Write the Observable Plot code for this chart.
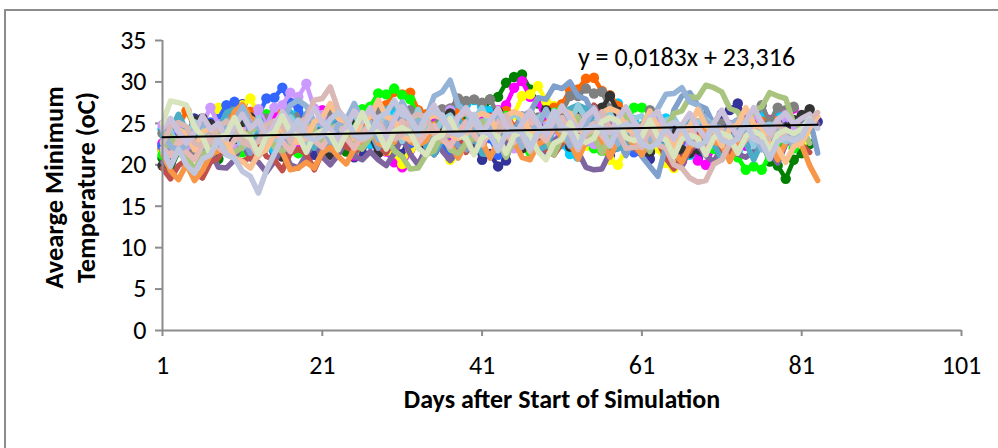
<!DOCTYPE html>
<html>
<head>
<meta charset="utf-8">
<script src="https://cdn.jsdelivr.net/npm/d3@7"></script>
<script src="https://cdn.jsdelivr.net/npm/@observablehq/plot@0.6"></script>
<style>
  html, body { margin: 0; background: #fff; overflow: hidden; width: 998px; height: 448px; }
  #frame { position: absolute; left: 4px; top: 9px; width: 1100px; height: 500px; border: 2px solid #8c8c8c; box-sizing: border-box; }
  #chart { position: absolute; left: 0; top: 0; }
  #chart svg { overflow: visible; }
</style>
</head>
<body>
<div id="frame"></div>
<div id="chart"></div>
<script>
// ---- Data (read/estimated from the reference) ----
const xTicks = [1, 21, 41, 61, 81, 101];
const yTicks = [0, 5, 10, 15, 20, 25, 30, 35];
const xLabel = "Days after Start of Simulation";
const yLabel = "Avearge Minimum\nTemperature (oC)";
const trendLabel = "y = 0,0183x + 23,316";
const trendSlope = 0.0183;
const trendIntercept = 23.316;
const trendRange = [1, 83];

// Series drawn first (with circle markers)
const m01 = [21.8,20.1,22.9,23.4,25.6,24.0,24.6,22.3,21.9,23.7,27.3,25.2,24.8,22.4,21.6,23.9,24.3,25.1,22.5,21.2,
 23.0,24.8,23.1,22.7,20.9,21.4,23.6,25.3,24.4,22.0,21.3,23.5,23.9,22.1,21.7,24.0,22.6,25.1,23.2,22.8,
 20.6,21.3,19.8,20.5,23.4,24.1,25.9,23.6,22.8,22.0,24.3,23.8,26.2,24.5,23.1,22.9,21.1,23.7,24.4,22.6,
 21.5,20.7,22.8,24.6,24.9,23.3,22.5,20.8,23.6,24.0,26.1,26.6,27.4,25.3,24.8,22.9,22.1,24.5,25.0,23.6,
 25.7,26.1,25.2];
const m02 = [20.8,19.4,21.6,22.1,24.2,22.3,21.9,20.7,23.8,25.1,23.6,23.9,21.5,22.8,25.0,22.6,21.8,22.2,23.5,24.7,
 25.3,23.8,24.1,21.6,22.9,25.4,26.1,24.3,23.7,22.1,24.6,24.9,26.5,24.8,23.2,25.1,26.0,27.6,25.7,24.4,
 26.3,27.9,28.2,29.9,30.6,30.9,29.1,27.4,26.8,24.6,24.9,25.8,26.4,25.1,24.7,22.9,25.2,25.5,23.9,23.4,
 22.1,24.5,25.0,23.6,23.1,21.2,23.8,24.0,25.9,23.7,23.5,21.8,24.1,24.3,22.7,22.6,20.4,19.9,18.3,20.6,
 21.4,22.5];
const m03 = [22.6,24.9,25.1,23.8,23.3,21.5,23.6,24.1,26.2,24.0,23.6,21.9,24.2,24.5,26.3,24.2,23.8,21.8,24.4,24.7,
 26.6,24.9,23.3,22.8,21.1,23.4,24.0,22.2,21.6,20.3,19.7,21.8,22.4,24.6,25.0,23.7,23.1,21.5,23.9,24.2,
 26.1,24.3,26.6,27.2,29.3,30.1,28.2,27.6,25.1,24.8,22.7,25.0,25.6,24.2,23.9,21.8,24.1,24.6,24.3,22.2,
 22.0,22.5,24.8,22.6,22.1,20.4,22.3,20.5,20.0,22.2,22.6,24.8,22.7,22.3,22.8,25.1,25.4,24.9,25.1,26.8];
const m04 = [21.7,23.9,24.3,23.0,22.8,24.3,24.7,26.9,24.8,27.1,27.2,28.0,26.1,25.6,23.4,23.2,23.6,25.8,23.7,23.3,
 21.5,23.6,24.0,23.7,21.6,23.8,24.2,23.9,21.7,21.4,20.1,21.9,22.5,24.7,22.6,22.3,20.6,22.8,23.2,22.8,
 23.4,25.6,25.9,25.5,26.0,28.3,28.5,29.5,27.7,27.1,25.0,24.6,22.6,22.3,22.9,22.5,20.6,20.0,21.9,22.4,
 24.6,22.5,22.0,20.2,19.6,21.4,21.9,24.1,24.4,24.0,22.0,21.7,22.2,24.4,24.7,24.3,22.3,24.5,24.8,24.5,
 22.6,24.2];
const m05 = [24.3,22.4,22.0,22.6,24.8,25.1,23.9,23.5,21.6,23.7,24.1,26.2,24.2,23.8,21.8,24.0,24.4,26.4,24.3,24.0,
 22.0,21.7,22.3,24.5,24.9,24.5,22.5,24.7,25.1,27.0,25.1,24.7,22.7,22.4,23.0,25.2,25.6,27.3,27.3,27.8,
 27.0,26.5,24.4,24.0,22.1,24.2,24.7,24.4,22.4,22.0,22.5,21.3,21.0,22.8,23.3,25.4,25.8,27.4,25.8,25.4,
 23.4,23.0,23.5,25.6,23.6,23.2,21.2,23.3,23.8,23.4,21.4,21.1,21.7,23.9,24.4,26.4,24.4,26.3,24.7,23.5];
const m06 = [22.2,24.2,24.6,26.5,24.6,24.2,22.2,24.3,24.8,26.9,26.8,26.4,24.3,23.9,24.4,26.4,24.4,24.0,22.0,24.1,
 24.6,26.7,24.7,24.3,22.4,24.5,25.0,26.9,27.2,28.8,28.5,28.7,26.6,26.1,24.1,23.7,24.2,26.3,24.3,23.9,
 21.9,24.0,24.5,26.5,24.5,24.1,22.2,24.3,24.8,26.9,27.3,29.0,29.1,30.4,30.5,28.9,28.4,27.1,25.0,24.6,
 22.6,24.7,25.2,24.8,22.8,22.4,23.7,25.0,25.4,25.0,23.0,22.6,23.9,25.2,25.6,25.2,23.2,25.3,25.7,24.5];
const m07 = [21.2,23.2,23.6,23.2,21.2,20.9,21.4,23.5,23.9,23.5,21.5,23.6,24.1,26.1,24.1,23.7,21.7,21.4,21.9,24.0,
 24.5,24.1,22.1,24.2,24.7,26.7,27.0,28.6,28.5,29.2,28.4,27.9,25.8,25.3,23.3,22.9,21.0,23.1,23.6,25.7,
 23.7,23.3,23.8,25.9,23.9,23.5,21.6,23.7,24.2,26.3,26.7,26.4,24.4,24.0,22.0,21.7,22.2,24.3,24.8,26.9,
 26.9,26.5,24.5,24.1,22.1,21.7,23.0,24.3,22.3,21.9,23.2,21.2,20.9,19.4,19.8,19.4,21.2,21.7,23.8,22.0];
const m08 = [23.8,24.5,23.2,22.8,21.0,23.0,23.5,25.5,23.5,23.1,23.6,25.7,26.0,25.6,23.6,23.2,23.7,25.8,23.8,23.4,
 23.9,26.0,24.0,23.6,21.7,23.8,24.3,26.4,24.4,24.0,24.5,26.6,24.6,24.2,24.7,26.7,26.8,28.0,27.7,27.9,
 27.5,27.9,26.0,25.6,23.6,25.7,26.1,25.7,23.7,25.8,26.3,28.3,28.3,29.2,28.6,28.8,26.8,26.4,24.4,24.0,
 24.5,26.6,24.6,24.2,22.2,24.3,24.8,24.4,22.4,24.5,25.0,24.6,22.6,24.7,25.2,27.2,25.2,26.9,26.6,27.0];
const m09 = [22.3,23.0,24.9,22.9,22.5,23.0,25.1,25.5,27.2,27.6,26.0,25.5,25.9,28.0,28.1,29.3,27.5,27.0,25.0,24.6,
 22.6,24.7,25.2,24.8,22.8,22.4,23.7,25.0,25.4,25.0,23.0,22.6,23.9,25.2,23.2,22.8,21.0,23.1,23.6,25.6,
 23.6,23.2,21.2,23.3,23.8,25.8,23.8,23.4,23.9,26.0,24.0,23.6,21.6,23.7,24.2,26.2,24.2,23.8,21.8,21.5,
 22.0,24.1,24.6,24.2,22.2,21.8,23.1,24.4,24.9,24.5,22.5,24.6,25.1,24.7,22.7,22.3,23.6,24.9,25.3,24.9];
const m10 = [24.8,24.7,24.3,22.3,24.4,24.9,26.9,24.9,24.5,22.5,24.6,25.1,26.7,24.7,26.9,27.2,28.7,28.2,29.8,26.8,
 26.0,24.0,23.6,24.1,26.2,24.2,23.8,21.8,23.9,24.4,26.4,24.4,24.0,22.0,24.1,24.6,26.6,24.6,24.2,22.2,
 24.3,24.8,24.4,22.4,22.0,22.5,24.6,25.1,24.7,22.7,24.8,25.3,24.9,22.9,22.5,23.0,25.1,25.6,25.2,23.2,
 22.8,23.3,25.4,23.4,23.0,21.0,23.1,23.6,25.6,23.6,23.2,21.2,23.3,23.8,25.8,23.8,23.4,23.9,26.0,24.0];
const m11 = [19.9,20.4,22.6,23.2,25.3,25.6,24.9,23.0,22.6,23.1,25.2,25.7,25.2,23.3,22.9,21.0,23.1,23.6,25.6,23.6,
 23.2,21.2,23.3,23.8,25.8,23.8,23.4,21.4,23.5,24.0,26.0,24.0,23.6,21.6,23.7,24.2,26.2,24.2,23.8,21.8,
 23.9,24.4,26.4,24.4,24.0,22.0,24.1,24.6,26.6,24.6,24.2,22.2,24.3,24.8,26.8,26.9,28.3,26.4,25.9,24.0,
 23.6,21.6,23.7,24.2,23.8,21.8,21.4,21.9,24.0,24.5,24.1,22.1,24.2,24.7,24.3,22.3,24.4,24.9,24.5,25.4,
 26.0,26.7];

// Series drawn on top (lines only)
const l01 = [20.3,19.9,21.9,22.4,24.1,22.1,21.7,19.7,19.6,20.6,22.7,20.7,20.3,19.1,20.4,22.0,20.0,19.6,21.2,22.6,
 21.0,20.0,21.2,23.0,21.0,20.6,21.6,20.6,19.9,21.4,23.3,21.3,20.0,22.0,22.8,21.7,20.5,22.2,23.4,21.4,
 23.5,24.8,22.8,22.4,23.9,24.6,23.1,22.1,20.9,22.9,23.6,22.2,21.6,19.7,19.4,19.5,21.5,22.0,23.9,21.9,
 21.5,22.1,24.0,22.0,21.6,19.8,21.9,22.4,21.1,20.4,22.0,22.7,21.3,20.9,21.6,23.5,21.5,20.2,22.5,23.1,
 24.8,25.9,24.9];
const l02 = [19.6,18.3,19.9,20.6,19.2,18.4,20.3,20.8,22.8,20.8,20.4,20.9,22.9,21.0,20.6,19.3,21.4,21.9,21.3,19.4,
 21.5,22.0,24.0,22.1,21.7,22.2,24.2,22.3,21.4,23.0,23.8,25.4,23.6,23.2,21.2,23.3,23.8,23.3,21.5,23.5,
 24.0,26.0,24.0,23.6,24.1,26.1,24.1,23.7,21.8,21.2,22.6,23.3,25.5,25.6,27.2,25.2,24.8,22.8,22.5,23.8,
 24.4,23.2,22.8,20.8,19.5,20.9,21.6,23.7,24.1,23.6,21.7,21.4,22.5,23.6,25.1,23.1,22.7,20.7,22.8,23.3,
 22.4,21.5];
const l03 = [22.9,21.1,23.1,23.6,22.5,21.2,23.3,23.8,25.8,23.8,23.4,21.4,23.5,24.0,23.1,21.9,23.6,24.2,26.2,24.2,
 23.8,21.8,23.9,24.4,26.4,24.4,24.0,22.0,24.1,24.6,26.6,24.6,24.2,22.2,24.3,24.8,24.1,22.3,21.8,23.2,
 23.9,25.8,23.8,23.4,23.9,26.0,26.3,28.1,27.9,29.5,29.2,30.0,28.3,27.9,25.9,25.5,23.5,23.1,21.1,23.2,
 21.0,19.8,18.6,22.3,26.6,28.3,28.7,27.2,26.8,24.8,24.4,22.4,24.5,25.0,24.1,22.6,24.7,25.2,24.2,22.8,
 22.6,25.6,21.4];
const l04 = [23.5,24.1,26.1,24.1,23.7,21.7,23.8,24.3,26.3,26.7,26.1,24.2,23.8,21.8,23.9,24.4,26.4,24.4,24.0,22.0,
 24.1,24.6,26.6,24.6,24.2,22.2,24.3,24.8,26.8,27.0,26.6,24.6,24.2,22.2,21.2,23.0,23.6,25.7,23.7,23.3,
 21.3,21.2,22.0,24.0,24.5,24.1,22.1,21.8,22.2,24.3,24.8,26.8,27.2,26.8,24.8,24.4,22.4,21.9,22.4,24.5,
 25.0,24.6,22.6,22.2,22.7,24.8,25.3,24.9,22.9,22.5,20.6,22.5,23.0,22.6,20.6,22.7,23.2,25.2,23.2,22.8];
const l05 = [21.3,19.3,18.2,20.1,18.1,19.3,21.2,21.7,23.7,26.4,27.3,25.7,25.1,23.1,22.6,21.5,19.4,19.6,20.3,19.6,
 21.5,22.1,21.0,20.1,21.9,22.5,24.5,22.6,22.2,22.7,24.7,22.8,22.4,22.9,24.9,22.9,22.6,20.8,22.7,23.2,
 22.8,20.8,22.9,23.4,22.9,20.9,20.6,22.5,23.0,25.0,23.1,22.7,20.7,22.8,23.3,22.9,20.9,23.0,23.5,22.4,
 21.2,23.2,23.8,23.4,21.4,20.3,22.2,22.7,24.7,22.8,22.4,20.4,22.5,23.0,24.9,23.0,22.6,20.6,22.7,23.2,
 22.4,19.9,18.1];
const l06 = [21.5,23.5,21.6,21.2,19.3,21.3,21.8,23.8,21.8,21.5,22.1,24.1,24.6,24.1,22.1,21.7,22.3,24.3,24.8,24.3,
 22.3,24.4,24.8,24.5,22.5,21.9,23.3,24.0,23.3,21.7,21.0,19.5,19.6,21.2,21.7,23.7,21.8,21.4,22.6,23.3,
 25.3,23.3,22.9,20.9,23.0,23.5,25.6,23.6,23.2,21.2,23.3,23.8,25.8,23.8,23.4,21.4,23.5,24.0,26.0,24.0,
 23.6,21.6,23.7,24.2,26.2,26.5,28.2,28.1,29.6,29.3,28.8,26.8,26.4,24.4,26.5,27.0,28.7,28.3,28.0,25.0,
 24.6,22.6];
const l07 = [24.1,22.2,21.8,22.3,24.3,24.8,24.4,22.4,24.5,25.0,27.0,25.0,24.6,22.6,24.7,25.2,27.2,27.8,27.1,25.2,
 24.8,22.8,24.9,25.4,27.4,25.4,25.0,23.0,25.1,25.6,27.6,25.6,25.2,25.7,28.3,28.8,30.2,27.2,26.3,24.4,
 24.0,24.5,26.5,24.5,24.1,22.1,24.2,24.7,26.7,24.7,24.3,22.3,24.4,24.9,26.9,24.9,24.5,22.5,24.6,25.1,
 24.2,23.0,26.8,28.5,28.6,29.3,27.6,27.2,25.2,24.8,22.8,24.9,25.4,24.2,23.8,21.8,23.9,24.4,24.0,22.1];
const l08 = [24.9,25.4,24.2,23.8,21.8,23.9,24.4,23.2,22.8,20.8,20.4,19.6,21.3,21.8,23.8,24.3,23.1,22.7,23.2,25.2,
 25.7,27.4,25.6,25.2,23.2,25.3,25.8,27.8,25.8,25.4,23.4,23.0,23.5,25.5,26.0,25.6,23.6,23.2,23.7,25.7,
 26.2,25.8,23.8,25.9,26.4,26.0,24.0,23.6,24.1,26.1,26.6,26.2,24.2,23.8,24.3,26.3,26.8,26.4,24.4,24.0,
 24.5,26.5,24.5,24.1,22.1,24.2,24.7,26.7,24.7,24.3,22.3,24.4,24.9,26.9,24.9,24.5,22.5,22.0,20.3,22.2,
 22.6,24.5,25.8];
const l09 = [22.6,24.6,25.1,24.6,22.6,22.2,22.7,24.7,25.2,24.7,22.7,22.3,22.8,24.8,25.3,24.8,22.8,25.0,25.6,27.8,
 28.0,29.4,26.6,25.4,23.4,23.0,23.5,25.5,23.5,23.1,23.6,25.6,26.1,25.7,23.7,23.3,23.8,25.8,26.3,25.9,
 23.9,23.5,24.0,26.0,24.0,23.6,21.6,23.7,24.2,26.2,24.2,23.8,21.8,23.9,24.4,26.4,24.4,24.0,22.0,22.1,
 22.2,24.4,22.4,22.0,20.0,19.6,18.4,17.9,18.1,20.1,20.6,22.6,23.2,25.1,23.2,22.8,23.3,25.3,23.3,22.9,
 23.4,25.4,26.3];
const l10 = [25.0,27.7,27.5,27.2,24.6,23.4,21.2,23.2,23.7,25.7,23.7,23.3,21.3,23.4,23.9,25.9,23.9,23.5,21.5,23.6,
 24.1,23.6,21.8,23.8,24.3,26.3,24.3,23.9,21.9,24.0,24.5,23.9,22.0,21.2,23.1,23.6,25.6,23.6,23.2,21.2,
 23.3,23.8,23.4,21.4,23.5,24.0,23.6,21.6,20.6,22.6,23.1,25.1,23.1,22.7,23.2,25.2,25.7,25.3,23.3,22.9,
 23.4,25.4,23.4,23.0,21.0,23.1,23.6,23.2,21.2,23.3,23.8,23.4,21.4,23.5,24.0,23.6,21.6,23.7,24.2,23.8,
 24.3,25.5];
const l11 = [21.8,19.8,21.9,20.0,19.0,20.7,21.2,23.2,21.2,20.8,19.2,18.6,16.6,19.3,21.3,23.3,23.8,25.4,23.4,23.0,
 23.5,25.5,26.3,25.6,23.6,23.2,23.7,25.7,26.2,27.8,26.0,25.6,23.6,26.0,26.4,26.0,24.0,23.6,24.1,26.1,
 24.1,23.7,21.7,23.8,24.3,23.9,21.9,24.0,24.5,26.5,24.5,24.1,22.1,24.2,24.7,24.3,22.3,24.4,24.9,24.5,
 22.5,22.1,22.6,24.6,25.1,24.7,22.7,22.3,22.8,24.8,23.0,22.6,23.1,25.1,23.1,22.7,20.7,22.8,23.3,22.9,
 23.4,25.4,24.4];
const l12 = [24.4,25.6,24.0,22.6,23.9,25.9,24.3,25.0,23.1,24.6,26.1,24.4,25.3,23.5,24.8,26.4,25.0,23.7,25.2,26.8,
 25.1,24.3,22.9,24.6,26.5,25.2,26.9,24.8,23.3,25.5,27.0,25.6,24.1,25.8,27.2,25.4,24.0,25.7,26.9,25.1,
 23.8,25.3,26.8,24.7,23.4,25.0,26.5,24.9,23.6,25.4,27.1,25.5,24.2,25.9,26.7,24.6,23.9,25.6,27.0,25.2,
 24.0,25.7,26.4,24.3,23.1,24.8,26.2,24.5,23.2,25.0,26.6,24.8,23.5,25.3,26.9,25.1,23.8,25.5,26.2,24.9,
 25.6,26.1];
const l13 = [22.8,24.1,21.9,23.2,25.2,24.7,21.6,23.1,25.3,23.9,22.0,23.4,25.7,24.0,22.9,23.3,25.8,24.5,22.2,24.6,
 25.4,23.9,22.6,25.1,26.3,24.0,23.4,24.2,26.4,25.0,22.8,24.5,26.7,24.3,23.9,25.4,26.0,24.6,22.9,25.5,
 26.9,24.4,23.9,25.0,26.2,25.4,23.1,25.7,26.3,24.7,24.1,25.0,27.2,25.5,23.3,25.9,26.2,24.6,24.0,25.6,
 25.9,24.4,23.8,25.4,25.7,24.1,22.7,25.2,25.5,24.7,22.5,24.9,25.2,24.4,22.2,24.6,24.9,23.4,22.8,23.5,
 24.5,25.5];
const l14 = [22.0,21.1,22.9,21.5,20.6,22.4,23.6,22.1,21.3,23.0,24.2,22.6,21.0,22.3,23.9,22.8,21.6,23.4,24.5,22.9,
 22.1,23.7,24.9,23.2,22.0,23.6,25.1,23.8,22.5,24.0,25.3,23.9,22.6,23.8,24.7,23.1,22.2,23.9,25.2,23.6,
 22.4,24.1,25.4,23.8,22.7,24.3,25.5,24.0,22.9,24.4,25.7,24.1,22.8,24.2,25.0,23.5,22.3,23.9,25.1,23.4,
 22.1,23.6,24.8,23.0,21.8,23.4,24.6,22.9,21.7,23.2,24.4,22.8,21.6,23.1,24.3,22.7,21.5,23.0,24.2,22.6,
 23.5,24.6];

const markerSeries = [m01, m02, m03, m04, m05, m06, m07, m08, m09, m10, m11];
const markerColors = ["#333399", "#008000", "#FF00FF", "#FFFF00", "#00CCFF", "#FF6600", "#00FF00", "#808080", "#3366FF", "#CC99FF", "#333333"];
const lineSeries = [l01, l02, l03, l04, l05, l13, l06, l14, l07, l08, l09, l12, l10, l11];
const lineColors = ["#7E65A0", "#C0504D", "#7F9FCC", "#4BACC6", "#F79646", "#93CDDD", "#A9C47F", "#E6B9B8", "#95B3D7", "#FAC090", "#D9B8B5", "#CCC1DA", "#D7E4BD", "#BFC6DD"];

// ---- Build ----
const toRows = (vals) => vals.map((v, i) => ({day: i + 1, t: v}));
const trend = trendRange.map(d => ({day: d, t: trendSlope * d + trendIntercept}));
const axisGray = "#8c8c8c";
const fontH = "Carlito, Calibri, 'Open Sans', sans-serif";

const marks = [];
markerSeries.forEach((vals, i) => {
  const rows = toRows(vals);
  marks.push(Plot.line(rows, {x: "day", y: "t", stroke: markerColors[i], strokeWidth: 4.5, strokeLinejoin: "round"}));
  marks.push(Plot.dot(rows, {x: "day", y: "t", fill: markerColors[i], r: 5.2}));
});
lineSeries.forEach((vals, i) => {
  marks.push(Plot.line(toRows(vals), {x: "day", y: "t", stroke: lineColors[i], strokeWidth: 5.5, strokeLinejoin: "round"}));
});

const chart = Plot.plot({
  width: 998,
  height: 448,
  marginLeft: 162,
  marginRight: 37,
  marginTop: 40,
  marginBottom: 118,
  style: {fontFamily: fontH, background: "transparent", overflow: "visible"},
  x: {domain: [1, 101], axis: null},
  y: {domain: [0, 35], axis: null},
  marks: [
    Plot.axisY({ticks: yTicks, tickSize: 7, tickPadding: 9, fontSize: 26, stroke: axisGray, strokeWidth: 2, fill: "black", tickFormat: d => String(d), label: null}),
    Plot.axisX({ticks: xTicks, tickSize: 6, tickPadding: 19, fontSize: 26, stroke: axisGray, strokeWidth: 2, fill: "black", tickFormat: d => String(d), label: null}),
    ...marks,
    Plot.ruleX([1], {stroke: axisGray, strokeWidth: 2}),
    Plot.ruleY([0], {stroke: axisGray, strokeWidth: 2}),
    Plot.line(trend, {x: "day", y: "t", stroke: "black", strokeWidth: 2}),
    Plot.text([trendLabel], {frameAnchor: "top", dx: 124.5, dy: 7, fontSize: 26, fill: "black"}),
    Plot.text([xLabel], {frameAnchor: "bottom", dy: 77, fontSize: 26, fontWeight: "bold", fill: "black"}),
    Plot.text([yLabel], {frameAnchor: "left", textAnchor: "middle", rotate: -90, dx: -94, dy: 2, fontSize: 26.5, fontWeight: "bold", lineHeight: 1.24, fill: "black"})
  ]
});
document.getElementById("chart").appendChild(chart);
</script>
</body>
</html>
